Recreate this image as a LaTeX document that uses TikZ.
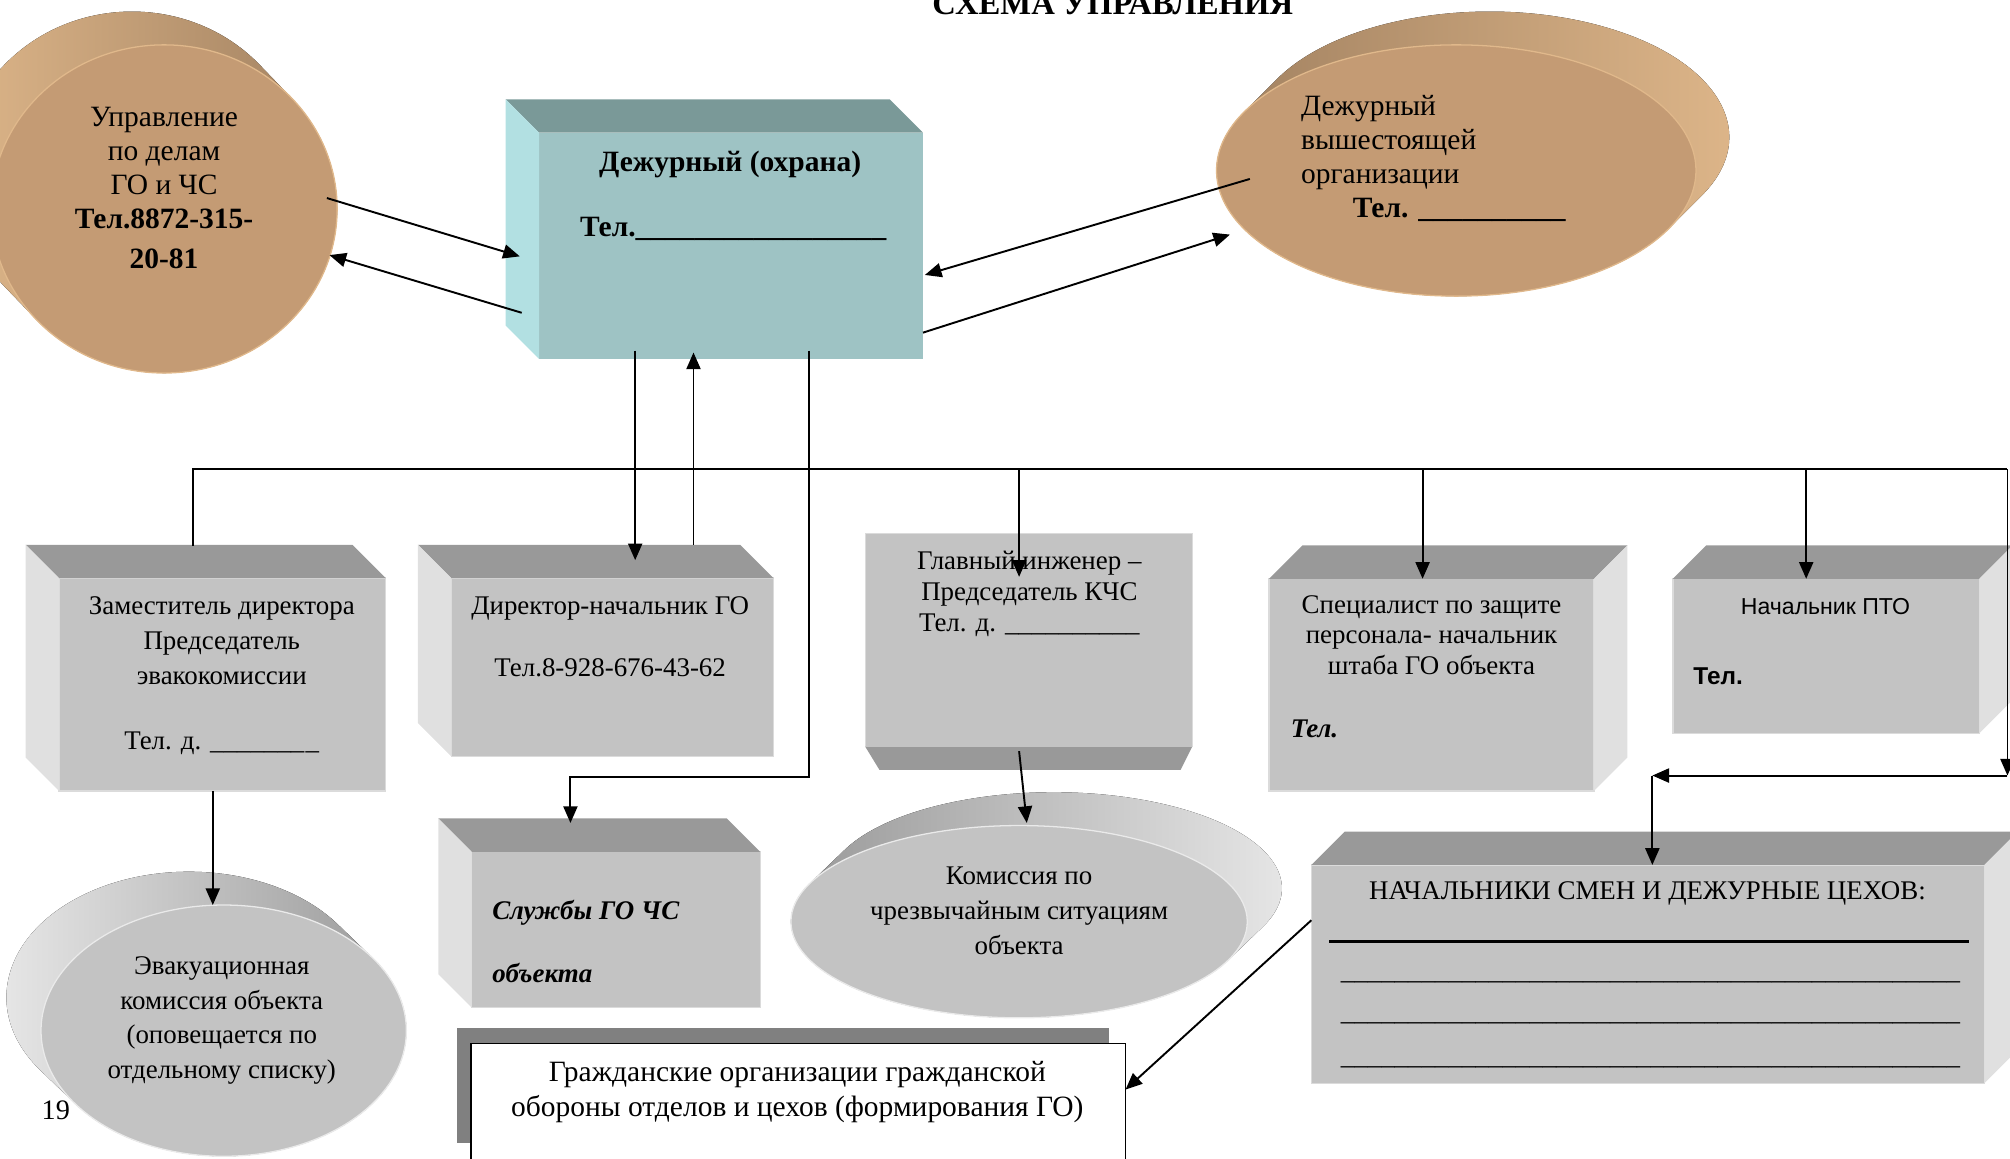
\documentclass[tikz,border=0pt]{standalone}
\usepackage{fontspec}
\setmainfont{Liberation Serif}
\newfontfamily\ptofont{Liberation Sans}
\usetikzlibrary{arrows.meta,calc,shapes.geometric}

\definecolor{tanfront}{RGB}{196,155,116}
\definecolor{tandark}{RGB}{158,126,94}
\definecolor{tanlight}{RGB}{224,184,139}
\definecolor{tealfront}{RGB}{158,195,196}
\definecolor{tealtop}{RGB}{122,153,152}
\definecolor{tealside}{RGB}{178,224,226}
\definecolor{greyfront}{RGB}{195,195,195}
\definecolor{greytop}{RGB}{153,153,153}
\definecolor{greyside}{RGB}{224,224,224}
\definecolor{discdark}{RGB}{148,148,148}
\definecolor{disclight}{RGB}{234,234,234}
\definecolor{shadowgrey}{RGB}{128,128,128}

% top and side faces of a box, depth up-left or up-right
\newcommand{\depthleft}[3]{%
  \fill[#2] (#1.north west) -- ++(-26,26) -- ([shift={(-26,26)}]#1.north east) -- (#1.north east) -- cycle;
  \fill[#3] (#1.north west) -- ++(-26,26) -- ([shift={(-26,26)}]#1.south west) -- (#1.south west) -- cycle;}
\newcommand{\depthright}[3]{%
  \fill[#2] (#1.north west) -- ++(26,26) -- ([shift={(26,26)}]#1.north east) -- (#1.north east) -- cycle;
  \fill[#3] (#1.north east) -- ++(26,26) -- ([shift={(26,26)}]#1.south east) -- (#1.south east) -- cycle;}
% wall of a disc: centre, x radius, y radius, dx, dy, shading
\newcommand{\discwall}[6]{%
  \pgfmathsetmacro{\ta}{atan2(#5/#3,#4/#2)-90}%
  \pgfmathsetmacro{\tb}{\ta+180}%
  \pgfmathsetmacro{\tc}{\ta+360}%
  \fill[#6] ($(#1)+(#4,#5)+(\ta:#2 and #3)$) arc[start angle=\ta, end angle=\tb, x radius=#2, y radius=#3]
    -- ($(#1)+(\tb:#2 and #3)$) arc[start angle=\tb, end angle=\tc, x radius=#2, y radius=#3] -- cycle;}
\newcommand{\blanks}[1]{\foreach\bi in {1,...,#1}{\_}}

\begin{document}
\begin{tikzpicture}[x=1pt,y=1pt,>={Triangle[length=13pt,width=11pt]},
    conn/.style={line width=1.5pt},
    txt/.style={inner sep=0pt,outer sep=0pt,align=center,font=\fontsize{21}{27}\selectfont},
    front/.style={rectangle,inner sep=0pt,outer sep=0pt},
    greybox/.style={front,fill=greyfront,draw=white!40!greyfront,line width=1pt},
    tealbox/.style={front,fill=tealfront},
    disc/.style={ellipse,inner sep=0pt,outer sep=0pt,line width=1pt}]

\useasboundingbox (0,0) rectangle (1568,-904);
\clip (0,0) rectangle (1568,-904);

% discs
\coordinate (uprc) at (128,-163);
\discwall{uprc}{135}{128}{-25}{26}{left color=tanlight,right color=tandark}
\node[disc,fill=tanfront,draw=tanlight,minimum width=270pt,minimum height=256pt] (upr) at (uprc) {};

\coordinate (vyshc) at (1136,-133);
\discwall{vyshc}{187}{98}{26}{26}{left color=tandark,right color=tanlight}
\node[disc,fill=tanfront,draw=tanlight,minimum width=374pt,minimum height=196pt] (vysh) at (vyshc) {};

\coordinate (evakc) at (174.5,-804);
\discwall{evakc}{142.5}{98}{-27}{26}{left color=disclight,right color=discdark}
\node[disc,fill=greyfront,draw=disclight,minimum width=285pt,minimum height=196pt] (evak) at (evakc) {};

\coordinate (kchsc) at (795,-719);
\discwall{kchsc}{178}{75}{27}{26}{left color=discdark,right color=disclight}
\node[disc,fill=greyfront,draw=disclight,minimum width=356pt,minimum height=150pt] (kchs) at (kchsc) {};

% boxes
\node[tealbox,minimum width=299.5pt,minimum height=176.5pt] (duty) at (570.25,-191.75) {};
\depthleft{duty}{tealtop}{tealside}

\node[greybox,minimum width=255pt,minimum height=166pt] (zam) at (173.5,-534) {};
\depthleft{zam}{greytop}{greyside}

\node[greybox,minimum width=251.5pt,minimum height=139pt] (dir) at (477.75,-520.5) {};
\depthleft{dir}{greytop}{greyside}

\node[greybox,minimum width=255pt,minimum height=166.5pt] (glav) at (802.5,-499.25) {};
\fill[greytop] (glav.south west) -- (glav.south east) -- ++(-9,-18) -- ([shift={(11,-18)}]glav.south west) -- cycle;

\node[greybox,minimum width=253.5pt,minimum height=165.5pt] (spec) at (1116.75,-534.25) {};
\depthright{spec}{greytop}{greyside}

\node[greybox,minimum width=239pt,minimum height=120.5pt] (pto) at (1424.5,-511.75) {};
\depthright{pto}{greytop}{greyside}

\node[greybox,minimum width=225pt,minimum height=121.5pt] (sluzh) at (480.5,-725.25) {};
\depthleft{sluzh}{greytop}{greyside}

\node[greybox,minimum width=525pt,minimum height=170.3pt] (nach) at (1285.5,-759.85) {};
\depthright{nach}{greytop}{greyside}

\fill[shadowgrey] (356.5,-802) rectangle (865.5,-892);
\node[front,fill=white,draw=black,line width=1.5pt,minimum width=510.5pt,minimum height=121pt] (grazh) at (622.75,-874.5) {};

% texts
\node[txt,anchor=base,font=\bfseries\fontsize{25.5}{30}\selectfont] (title) at (868,-11.5) {СХЕМА УПРАВЛЕНИЯ};
\node[txt,anchor=north,font=\fontsize{23}{26.5}\selectfont] (uprt) at (128,-83.6)
  {Управление\\по делам\\ГО и ЧС\\\textbf{Тел.8872-315-}\\[4.7pt]\textbf{20-81}};
\node[txt,anchor=north west,align=left,font=\fontsize{23}{26.6}\selectfont] (vysht) at (1015,-74.5)
  {Дежурный\\вышестоящей\\организации\\\hspace*{40.4pt}\textbf{Тел. \blanks{10}}};
\node[txt,anchor=base,font=\bfseries\fontsize{23}{27}\selectfont] (dutyt) at (569.6,-133.9) {Дежурный (охрана)};
\node[txt,anchor=base west,font=\bfseries\fontsize{23}{27}\selectfont] (dutytel) at (452.6,-184.6) {Тел.\blanks{17}};
\node[txt,anchor=north,font=\fontsize{21}{27.3}\selectfont] (zamt) at (173,-465.7)
  {Заместитель директора\\Председатель\\эвакокомиссии\\[23.4pt]Тел. д. \blanks{7}\kern1pt\_};
\node[txt,anchor=north] (dirt) at (476,-465.7) {Директор-начальник ГО\\[21pt]Тел.8-928-676-43-62};
\node[txt,anchor=north,font=\fontsize{21}{24}\selectfont] (glavt) at (803,-430)
  {Главный инженер –\\Председатель КЧС\\Тел. д. \blanks{10}};
\node[txt,anchor=north,font=\fontsize{21}{24}\selectfont] (spect) at (1116.7,-464.4)
  {Специалист по защите\\персонала- начальник\\штаба ГО объекта};
\node[txt,anchor=base west,font=\bfseries\itshape\fontsize{21}{24}\selectfont] (spectel) at (1007,-575) {Тел.};
\node[txt,anchor=base,font=\ptofont\fontsize{18}{22}\selectfont] (ptot) at (1424,-479.7) {Начальник ПТО};
\node[txt,anchor=base west,font=\ptofont\bfseries\fontsize{19}{22}\selectfont] (ptotel) at (1321,-534.3) {Тел.};
\node[txt,anchor=north west,align=left,font=\bfseries\itshape\fontsize{21}{27}\selectfont] (sluzht) at (384,-702.3)
  {Службы ГО ЧС\\[22.4pt]объекта};
\node[txt,anchor=north] (evakt) at (173,-746.5)
  {Эвакуационная\\комиссия объекта\\(оповещается по\\отдельному списку)};
\node[txt,anchor=north,font=\fontsize{21}{27.4}\selectfont] (kchst) at (795,-676.3)
  {Комиссия по\\чрезвычайным ситуациям\\объекта};
\node[txt,anchor=north,font=\fontsize{23}{27}\selectfont] (grazht) at (622,-828)
  {Гражданские организации гражданской\\обороны отделов и цехов (формирования ГО)};
\node[txt,anchor=base] (nacht) at (1285.2,-702) {НАЧАЛЬНИКИ СМЕН И ДЕЖУРНЫЕ ЦЕХОВ:};
\draw[line width=3pt] ([shift={(14,25.4)}]nach.west) -- ([shift={(-12,25.4)}]nach.east);
\foreach \y [count=\i] in {764,796,830.3}
  \node[txt,anchor=base west] (blank\i) at (1046,-\y) {\blanks{46}};
\node[txt,anchor=base west,font=\fontsize{22}{26}\selectfont] (pagenum) at (32.5,-873.6) {19};

% connectors
\draw[conn,->] ([shift={(-8,8.5)}]upr.east) -- ([shift={(-15,-8.25)}]duty.west);
\draw[conn,->] ([shift={(-13.5,-52.25)}]duty.west) -- ([shift={(-6,-36)}]upr.east);
\draw[conn,->] ([shift={(26,-6.6)}]vysh.west) -- ([shift={(1.5,-22.75)}]duty.east);
\draw[conn,->] ([yshift=-67.75]duty.east) -- ([shift={(10.5,-50)}]vysh.west);
\draw[conn,->] ([shift={(-74.75,6.5)}]duty.south) -- ([shift={(17.75,14)}]dir.north);
\draw[conn,->] ([shift={(63.25,26)}]dir.north) -- ([shift={(-29.25,5)}]duty.south);
\draw[conn,->] ([shift={(60.75,6.5)}]duty.south) -- ++(0,-332.5) -| ([shift={(-35.5,22.5)}]sluzh.north);

\coordinate (busR) at (1566,-366);
\coordinate (busD) at (1566,-605);
\draw[conn] ([shift={(-22.8,25.4)}]zam.north) |- (busR);
\draw[conn,->] ([xshift=-7.5]glav.north |- busR) -- ([shift={(-7.5,-34)}]glav.north);
\draw[conn,->] ([xshift=-7]spec.north |- busR) -- ([xshift=-7]spec.north);
\draw[conn,->] ([xshift=-15.5]pto.north |- busR) -- ([xshift=-15.5]pto.north);
\draw[conn,->] (busR) -- (busD);
\draw[conn,->] (busD) -- ([xshift=3.5]nach.north |- busD);
\draw[conn,->] ([xshift=3.5]nach.north |- busD) -- ([xshift=3.5]nach.north);

\draw[conn,->] ([xshift=-7.5]zam.south) -- ([xshift=-7.5]zam.south |- evak.north);
\draw[conn,->] ([shift={(-7.5,-3.5)}]glav.south) -- ([shift={(6,2)}]kchs.north);
\draw[conn,->] ([yshift=42]nach.west) -- ([yshift=24.5]grazh.east);

\end{tikzpicture}
\end{document}
